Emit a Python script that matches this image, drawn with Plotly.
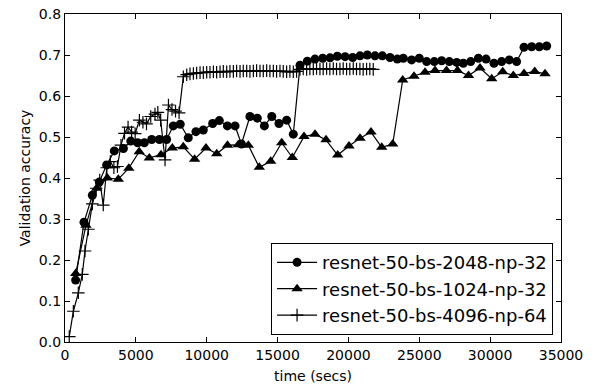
import plotly.graph_objects as go

# resnet-50-bs-2048-np-32
t_2048 = [750, 1340, 1930, 2420, 2940, 3480, 4120, 4640, 5130, 5600, 6120, 6660, 7170, 7640,
          8130, 8700, 9240, 9760, 10420, 10890, 11460, 12000, 12450, 13050, 13570, 14070, 14590,
          15100, 15640, 16110, 16583, 17100, 17640, 18185, 18700, 19215, 19760, 20300, 20817,
          21333, 21876, 22391, 22934, 23450, 23875, 24460, 25000, 25520, 26060, 26580, 27120,
          27640, 28110, 28630, 29170, 29710, 30270, 30810, 31350, 31870, 32390, 32930, 33470, 33990]
acc_2048 = [0.151, 0.292, 0.358, 0.390, 0.432, 0.466, 0.472, 0.490, 0.486, 0.486, 0.494, 0.494,
            0.494, 0.527, 0.531, 0.498, 0.513, 0.517, 0.533, 0.540, 0.527, 0.527, 0.483, 0.550,
            0.546, 0.527, 0.550, 0.533, 0.541, 0.507, 0.675, 0.685, 0.690, 0.692, 0.693, 0.697,
            0.696, 0.694, 0.698, 0.700, 0.698, 0.698, 0.694, 0.690, 0.692, 0.688, 0.692, 0.684,
            0.684, 0.686, 0.684, 0.682, 0.680, 0.684, 0.692, 0.690, 0.680, 0.684, 0.688, 0.684,
            0.719, 0.720, 0.720, 0.722]

# resnet-50-bs-1024-np-32
t_1024 = [755, 1482, 2237, 2985, 3761, 4502, 5236, 5949, 6774, 7572, 8348, 9145, 9950, 10705,
          11467, 12229, 12935, 13711, 14516, 15292, 16040, 16865, 17641, 18418, 19243, 20041,
          20817, 21593, 22349, 23125, 23830, 24627, 25404, 26110, 26921, 27698, 28474, 29285,
          30111, 30887, 31635, 32390, 33145, 33872]
acc_1024 = [0.167, 0.285, 0.375, 0.400, 0.397, 0.424, 0.464, 0.449, 0.457, 0.473, 0.476, 0.446,
            0.473, 0.459, 0.480, 0.481, 0.480, 0.426, 0.441, 0.486, 0.450, 0.501, 0.507, 0.493,
            0.456, 0.478, 0.497, 0.512, 0.475, 0.483, 0.639, 0.648, 0.658, 0.662, 0.662, 0.662,
            0.650, 0.668, 0.642, 0.659, 0.650, 0.655, 0.660, 0.654]

# resnet-50-bs-4096-np-64
t_4096 = [300, 590, 940, 1220, 1410, 1650, 1930, 2200, 2450, 2700, 2950, 3200, 3450, 3700, 3950,
          4200, 4450, 4700, 4950, 5250, 5500, 5750, 6050, 6350, 6550, 6750, 7060, 7300, 7550,
          7800, 8050,
          8350, 8590, 8820, 9060, 9290, 9530, 9760, 10000, 10230, 10470, 10700, 10940, 11170,
          11410, 11640, 11880, 12110, 12350, 12580, 12820, 13050, 13290, 13520, 13760, 13990,
          14230, 14460, 14700, 14930, 15170, 15400, 15640, 15870, 16110, 16340, 16580, 16810,
          17050, 17280, 17520, 17750, 17990, 18220, 18460, 18690, 18930, 19160, 19400, 19630,
          19870, 20100, 20340, 20570, 20810, 21040, 21280, 21510, 21750]
acc_4096 = [0.013, 0.075, 0.120, 0.165, 0.222, 0.275, 0.337, 0.375, 0.395, 0.334, 0.425, 0.440,
            0.425, 0.428, 0.480, 0.509, 0.524, 0.512, 0.508, 0.541, 0.536, 0.532, 0.550, 0.556,
            0.560, 0.541, 0.444, 0.578, 0.567, 0.563, 0.559,
            0.647, 0.652, 0.654, 0.655, 0.656, 0.657, 0.657, 0.658, 0.658, 0.659, 0.658, 0.659,
            0.660, 0.659, 0.660, 0.660, 0.661, 0.660, 0.661, 0.661, 0.660, 0.661, 0.662, 0.661,
            0.661, 0.662, 0.661, 0.661, 0.660, 0.661, 0.660, 0.659, 0.660, 0.659, 0.660, 0.665,
            0.666, 0.665, 0.666, 0.666, 0.667, 0.666, 0.666, 0.667, 0.666, 0.667, 0.666, 0.666,
            0.667, 0.666, 0.666, 0.667, 0.666, 0.666, 0.665, 0.666, 0.666, 0.665]

x_ticks = [0, 5000, 10000, 15000, 20000, 25000, 30000, 35000]
y_ticks = [0.0, 0.1, 0.2, 0.3, 0.4, 0.5, 0.6, 0.7, 0.8]

fig = go.Figure()
fig.add_trace(go.Scatter(x=t_2048, y=acc_2048, mode="lines+markers", name="resnet-50-bs-2048-np-32",
                         line=dict(color="black", width=1.2),
                         marker=dict(symbol="circle", size=9, color="black")))
fig.add_trace(go.Scatter(x=t_1024, y=acc_1024, mode="lines+markers", name="resnet-50-bs-1024-np-32",
                         line=dict(color="black", width=1.2),
                         marker=dict(symbol="triangle-up", size=10, color="black")))
fig.add_trace(go.Scatter(x=t_4096, y=acc_4096, mode="lines+markers", name="resnet-50-bs-4096-np-64",
                         line=dict(color="black", width=1.2),
                         marker=dict(symbol="cross-thin", size=9, color="black",
                                     line=dict(color="black", width=1.2))))

axis_common = dict(showline=True, linecolor="black", linewidth=1.2, mirror="allticks",
                   ticks="inside", ticklen=5, tickcolor="black", tickwidth=1,
                   showgrid=False, zeroline=False, automargin=False,
                   tickfont=dict(family="DejaVu Sans", size=14, color="black"))

fig.update_layout(
    width=598, height=388,
    margin=dict(l=65, r=37, t=14, b=46),
    paper_bgcolor="white", plot_bgcolor="white",
    font=dict(family="DejaVu Sans", size=14, color="black"),
    xaxis=dict(range=[0, 35000], tickvals=x_ticks, ticktext=[str(v) for v in x_ticks],
               title=dict(text="time (secs)", font=dict(size=14), standoff=9), **axis_common),
    yaxis=dict(range=[0, 0.8], tickvals=y_ticks, ticktext=[f"{v:.1f}" for v in y_ticks],
               title=dict(text="Validation accuracy", font=dict(size=14), standoff=4), **axis_common),
    legend=dict(x=0.984, y=0.021, xanchor="right", yanchor="bottom",
                bordercolor="black", borderwidth=1, bgcolor="white",
                font=dict(family="DejaVu Sans", size=18, color="black"),
                itemwidth=40, tracegroupgap=0),
    showlegend=True,
)

fig.write_html("out.html")
